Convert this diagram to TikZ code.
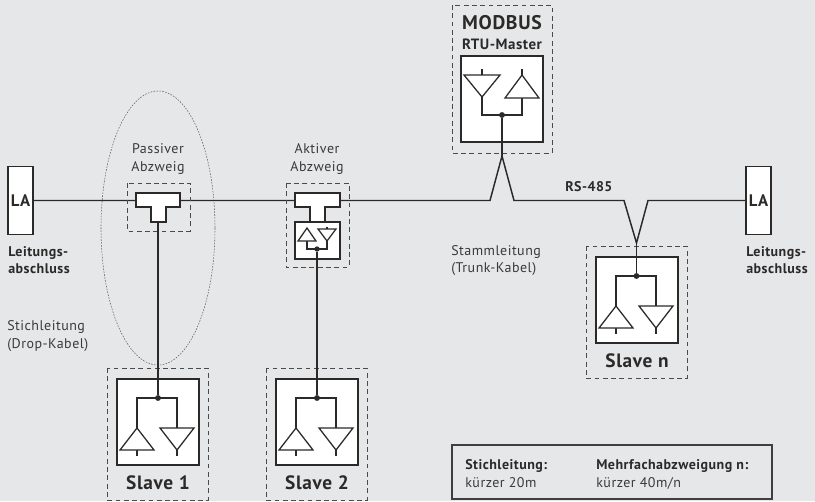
\documentclass[tikz,border=0pt]{standalone}
\usepackage{fontspec}
\setmainfont[LetterSpace=3.5]{PT Sans}
\definecolor{bgc}{HTML}{E6E7E9}
\definecolor{ink}{HTML}{2B2A29}
\definecolor{txt}{HTML}{3A3A3A}
\tikzset{
  x=0.75pt,y=-0.75pt,
  wire/.style={draw=ink,line width=1.1pt,line cap=butt},
  dashbox/.style={draw=ink!85,line width=0.6pt,dash pattern=on 3.6pt off 2.6pt},
  whitebox/.style={draw=ink,line width=1pt,fill=white},
  amp/.style={draw=ink,line width=0.95pt,line join=miter},
  dotn/.style={circle,fill=ink,inner sep=0pt,minimum size=4.4pt},
  lbl/.style={text=txt,font=\fontsize{10.5pt}{13pt}\selectfont,align=center,inner sep=0pt},
  lbll/.style={text=txt,font=\fontsize{10.5pt}{13pt}\selectfont,align=left,inner sep=0pt,anchor=west},
  blbl/.style={text=ink,font=\fontsize{10.5pt}{12.5pt}\selectfont\bfseries,align=left,inner sep=0pt,anchor=west},
  big/.style={text=ink,font=\fontsize{14.5pt}{16pt}\selectfont\bfseries,inner sep=0pt},
  ell/.style={draw=ink!75,line width=0.4pt,dash pattern=on 1.2pt off 1pt},
  pics/slave/.style args={#1}{code={
    \draw[dashbox] (-51,-12) rectangle (50,120);
    \draw[whitebox] (-41,-1) rectangle (41,85);
    \draw[wire] (-21,48) -- (-21,18) -- (19,18) -- (19,48);
    \draw[wire] (-21,70) -- (-21,76) (19,70) -- (19,76);
    \draw[amp,fill=white] (-21,48) -- (-38,70) -- (-4,70) -- cycle;
    \draw[amp,fill=white] (2,48) -- (36,48) -- (19,70) -- cycle;
    \node[big] at (0,103) {#1};
  }}
}
\begin{document}
\begin{tikzpicture}
\useasboundingbox (0,0) rectangle (815,501);
\fill[bgc] (0,0) rectangle (815,501);

% ellipse
\draw[ell] (158,228) ellipse [x radius=57,y radius=137];

% bus
\coordinate (fl1) at (490,200.5);
\coordinate (fr1) at (514,200.5);
\coordinate (ap1) at (502,156);
\coordinate (fl2) at (624,200.5);
\coordinate (fr2) at (648,200.5);
\coordinate (ap2) at (636.5,243);

% LA boxes
\node[whitebox,minimum width=18.75pt,minimum height=51pt,inner sep=0pt] (la1) at (20.5,200.5) {};
\node[whitebox,minimum width=18.75pt,minimum height=51pt,inner sep=0pt] (la2) at (758.5,200.5) {};
\node[big,font=\fontsize{12.5pt}{13pt}\selectfont\bfseries] at (20.5,201) {LA};
\node[big,font=\fontsize{12.5pt}{13pt}\selectfont\bfseries] at (758.5,201) {LA};

\draw[wire,line join=miter] (la1.east) -- (fl1) -- (ap1) -- (fr1) -- (fl2) -- (ap2) -- (fr2) -- (la2.west);

% Master
\node[big,font=\fontsize{14.8pt}{16pt}\selectfont\bfseries] (mtitle) at (502,22.5) {MODBUS};
\node[blbl,anchor=center,font=\fontsize{11.2pt}{12pt}\selectfont\bfseries] (msub) at (502,44) {RTU-Master};
\draw[dashbox] (452,5) rectangle (552,153);
\node[whitebox,minimum width=61.5pt,minimum height=64.5pt,inner sep=0pt] (mbox) at (502,99) {};
\draw[wire] (482,97) -- (482,115) -- (522,115) -- (522,98);
\draw[wire] (482,69) -- (482,75) (522,69) -- (522,75);
\draw[amp,fill=white] (464,75) -- (500,75) -- (482,97) -- cycle;
\draw[amp,fill=white] (522,75) -- (505,98) -- (539,98) -- cycle;
\node[dotn] (mdot) at (502,115) {};
\draw[wire] (mdot) -- (ap1);

% Slaves
\pic at (158,380) {slave={Slave 1}};
\pic at (317,380) {slave={Slave 2}};
\pic at (637,258) {slave={Slave n}};
\node[dotn] (d1) at (158,398) {};
\node[dotn] (d2) at (317,398) {};
\node[dotn] (dn) at (636.5,276) {};
\draw[wire] (dn) -- (ap2);

% Passive
\draw[dashbox] (127,183) rectangle (190,231);
\draw[whitebox,line join=miter] (136,193) -- (180,193) -- (180,207) -- (166,207) -- (166,222) -- (151,222) -- (151,207) -- (136,207) -- cycle;
\coordinate (t1) at (158,222);
\draw[wire] (t1) -- (d1);

% Active
\draw[dashbox] (286,183) rectangle (349,267);
\draw[whitebox,line join=miter] (295,193) -- (340,193) -- (340,207) -- (325,207) -- (325,222) -- (310,222) -- (310,207) -- (295,207) -- cycle;
\node[whitebox,minimum width=33.75pt,minimum height=27.75pt,inner sep=0pt] (abox) at (317.5,240.5) {};
\draw[wire] (307,241) -- (307,249) -- (327,249) -- (327,241);
\draw[wire] (327,226.5) -- (327,229);
\draw[amp,fill=white] (307,228) -- (298,241) -- (316,241) -- cycle;
\draw[amp,fill=white] (318,229) -- (336,229) -- (327,241) -- cycle;
\node[dotn,minimum size=4pt] (adot) at (317,249) {};
\draw[wire] (adot) -- (d2);

% Labels
\node[lbl] at (158,159) {Passiver\\Abzweig};
\node[lbl] at (317,159) {Aktiver\\Abzweig};
\node[blbl] at (8,260) {Leitungs-\\abschluss};
\node[blbl] at (746,260) {Leitungs-\\abschluss};
\node[blbl] at (565,186.5) {RS-485};
\node[lbll] at (7,336) {Stichleitung\\(Drop-Kabel)};
\node[lbll] at (451,260.5) {Stammleitung\\(Trunk-Kabel)};

% Legend
\draw[draw=ink!90,line width=0.8pt] (452,445) rectangle (772,499);
\node[blbl] at (465,466) {Stichleitung:};
\node[lbll] at (465,483) {kürzer 20m};
\node[blbl] at (596,466) {Mehrfachabzweigung n:};
\node[lbll] at (596,483) {kürzer 40m/n};
\end{tikzpicture}
\end{document}
